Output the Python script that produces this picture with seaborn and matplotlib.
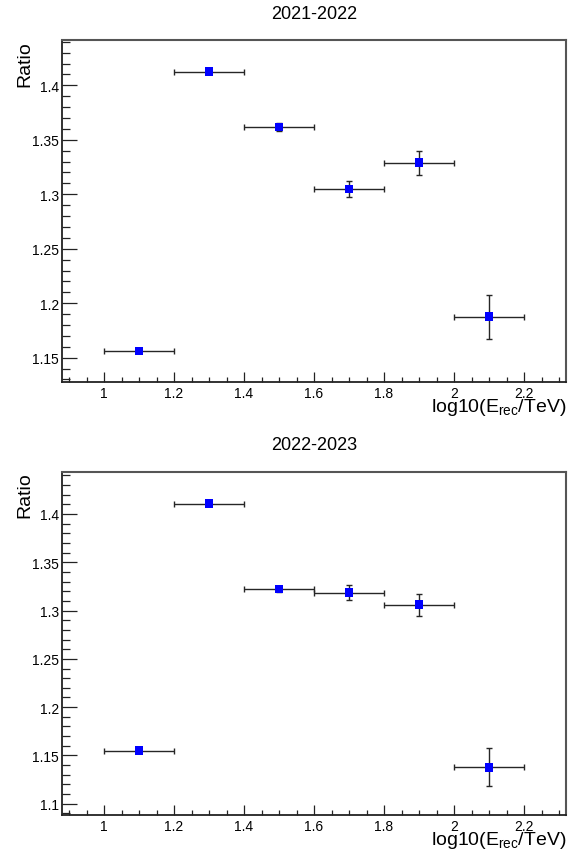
import numpy as np
import pandas as pd
import seaborn as sns
import matplotlib
matplotlib.use("Agg")
import matplotlib.pyplot as plt
from matplotlib.ticker import MultipleLocator, FuncFormatter

# Energy bins: centres and half-widths in log10(E_rec/TeV)
log_e_centers = [1.1, 1.3, 1.5, 1.7, 1.9, 2.1]
log_e_halfwidth = [0.1, 0.1, 0.1, 0.1, 0.1, 0.1]

# Ratio per energy bin and its statistical uncertainty
ratio_2021_2022 = [1.1561, 1.4125, 1.3617, 1.3048, 1.3290, 1.1876]
ratio_err_2021_2022 = [0.0010, 0.0012, 0.0035, 0.0076, 0.0110, 0.0200]
ratio_2022_2023 = [1.1549, 1.4107, 1.3224, 1.3186, 1.3062, 1.1376]
ratio_err_2022_2023 = [0.0010, 0.0012, 0.0035, 0.0076, 0.0114, 0.0197]

period_titles = ["2021-2022", "2022-2023"]
y_limits = [(1.1277, 1.4416), (1.0883, 1.4438)]
x_limits = (0.88, 2.32)

sns.set_theme(style="white")
plt.rcParams["font.family"] = ["Liberation Sans", "DejaVu Sans"]
plt.rcParams["mathtext.default"] = "regular"

W, H = 582, 854
fig = plt.figure(figsize=(W / 100, H / 100), dpi=100)

# panel boxes in pixels: left, top, right, bottom
boxes = [(62, 41, 566, 383), (62, 472.7, 566, 816)]

series = [
    (ratio_2021_2022, ratio_err_2021_2022),
    (ratio_2022_2023, ratio_err_2022_2023),
]


def fmt_tick(v, pos):
    s = f"{v:.2f}".rstrip("0").rstrip(".")
    return s


for (l, t, r, b), (vals, errs), title, ylim in zip(boxes, series, period_titles, y_limits):
    ax = fig.add_axes([l / W, 1 - b / H, (r - l) / W, (b - t) / H])
    df = pd.DataFrame({"x": log_e_centers, "xerr": log_e_halfwidth,
                       "ratio": vals, "err": errs})
    ax.errorbar(df["x"], df["ratio"], xerr=df["xerr"], yerr=df["err"],
                fmt="none", ecolor="#262626", elinewidth=1.0,
                capsize=2.2, capthick=1.0, zorder=2)
    sns.scatterplot(data=df, x="x", y="ratio", ax=ax, marker="s",
                    s=40, color="#0000ff", edgecolor="none", linewidth=0,
                    zorder=3, legend=False)

    ax.set_xlim(*x_limits)
    ax.set_ylim(*ylim)

    ax.xaxis.set_major_locator(MultipleLocator(0.2))
    ax.xaxis.set_minor_locator(MultipleLocator(0.05))
    ax.yaxis.set_major_locator(MultipleLocator(0.05))
    ax.yaxis.set_minor_locator(MultipleLocator(0.01))
    ax.xaxis.set_major_formatter(FuncFormatter(fmt_tick))
    ax.yaxis.set_major_formatter(FuncFormatter(fmt_tick))

    ax.tick_params(axis="both", which="both", direction="in",
                   bottom=True, left=True, top=False, right=False,
                   colors="#222222", labelcolor="black", labelsize=10,
                   width=0.9)
    ax.tick_params(axis="y", which="major", length=10.8, pad=2)
    ax.tick_params(axis="y", which="minor", length=5.8)
    ax.tick_params(axis="x", which="major", length=7.2, pad=3)
    ax.tick_params(axis="x", which="minor", length=3.6)

    for side in ["left", "bottom"]:
        ax.spines[side].set_color("#222222")
        ax.spines[side].set_linewidth(1.3)
    for side in ["top", "right"]:
        ax.spines[side].set_color("#555555")
        ax.spines[side].set_linewidth(1.5)

    ax.set_title(title, fontsize=13, pad=16, color="black")

    ax.set_ylabel("Ratio", fontsize=14, color="black")
    ax.yaxis.label.set_rotation_mode("default")
    ax.yaxis.label.set_ha("center")
    ax.yaxis.label.set_va("top")
    ax.yaxis.set_label_coords(-0.0744, 1.0)

    ax.set_xlabel(r"log10(E$_{rec}$/TeV)", fontsize=14, color="black")
    ax.xaxis.label.set_ha("right")
    ax.xaxis.label.set_va("center")
    ax.xaxis.set_label_coords(1.0, -25 / (b - t))

    ax.grid(False)

fig.savefig("out.png", dpi=100, facecolor="white")
